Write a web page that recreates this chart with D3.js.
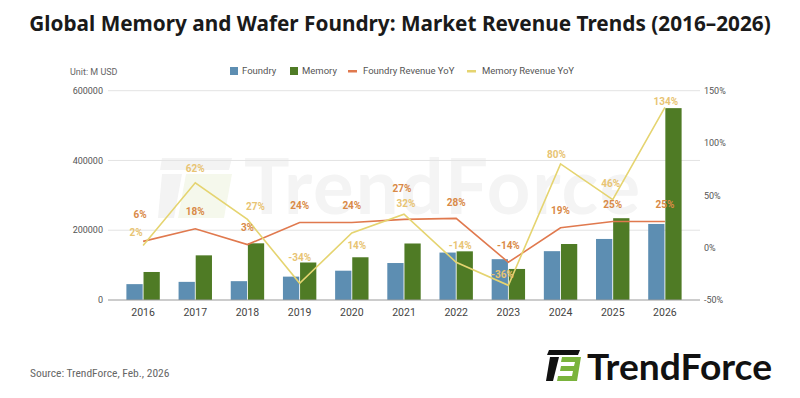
<!DOCTYPE html>
<html lang="en">
  <head>
    <meta charset="UTF-8" />
    <title>Global Memory and Wafer Foundry</title>
    <script src="https://d3js.org/d3.v7.min.js"></script>
    <style>
      body { margin: 0; background: #fff; }
      svg { display: block; }
    </style>
  </head>
  <body>
    <div id="chart"></div>
    <script>
      // Chart data
      const years = ["2016", "2017", "2018", "2019", "2020", "2021", "2022", "2023", "2024", "2025", "2026"];
      const foundryRev = [45500, 52000, 54000, 67000, 84000, 106000, 136000, 117000, 140000, 175000, 218000];
      const memoryRev = [80300, 128000, 162500, 107500, 122500, 162000, 139500, 89000, 160500, 234500, 550000];
      const foundryYoY = [6, 18, 3, 24, 24, 27, 28, -14, 19, 25, 25];
      const memoryYoY = [2, 62, 27, -34, 14, 32, -14, -36, 80, 46, 134];
      const leftTicks = [0, 200000, 400000, 600000];
      const rightTicks = [-50, 0, 50, 100, 150];

      // label nudges so data labels don't collide (px, relative to point)
      const foundryLabelDx = [-3, 0, 0, 0, 0, -2, 0, 0, 0, 0, 0];
      const foundryLabelDy = [-27, -17, -17, -17, -17, -31, -16, -17, -17, -17, -17];
      const memoryLabelDx = [-7, 0, 8, 0, 5, 2, 4, -6, -4, -2, 1];
      const memoryLabelDy = [-13, -14, -13, -26, 12, -11, -17, -11, -9, -16, -6];

      const width = 800;
      const height = 398;
      const colors = {
        foundry: "#5d8eb2",
        memory: "#4f7b25",
        foundryLine: "#e0794e",
        memoryLine: "#e5d470",
        foundryLabel: "#d98a47",
        memoryLabel: "#e8c473",
      };
      const font = "Roboto, 'Liberation Sans', sans-serif";

      const svg = d3
        .select("#chart")
        .append("svg")
        .attr("width", width)
        .attr("height", height);

      // plot area
      const gridLeft = 108;
      const gridRight = 700;
      const plotTop = 90.7;
      const plotBottom = 300;

      const x = d3.scaleBand().domain(years).range([117, 691]).paddingInner(0.36).paddingOuter(0.18);
      const xSub = d3.scaleBand().domain(["foundry", "memory"]).range([0, x.bandwidth()]).paddingInner(0.05);
      const yLeft = d3.scaleLinear().domain([0, 600000]).range([plotBottom, plotTop]);
      const yRight = d3.scaleLinear().domain([-50, 150]).range([plotBottom, plotTop]);
      const cx = (d) => x(d) + x.bandwidth() / 2;

      // Title, fitted to the width of the original
      const title = svg
        .append("text")
        .attr("x", width / 2)
        .attr("y", 31)
        .attr("text-anchor", "middle")
        .style("font-family", "'Noto Sans', 'Open Sans', sans-serif")
        .style("font-weight", 700)
        .style("font-size", "22px")
        .style("fill", "#1a1a1a")
        .text("Global Memory and Wafer Foundry: Market Revenue Trends (2016\u20132026)");
      const tw = title.node().getComputedTextLength();
      title.style("font-size", (22 * 742) / tw + "px");

      // Watermark
      const wm = svg.append("g");
      wm.append("path")
        .attr("d", "M162,158 L232,158 L229,170 L160,170 Z M162,174 L182,174 L174,218 L158,218 Z")
        .attr("fill", "#f3f3f3");
      wm.append("path")
        .attr("d", "M186,174 L232,174 L224,218 L178,218 Z")
        .attr("fill", "#f5f8ec");
      wm.append("text")
        .attr("x", 244)
        .attr("y", 214)
        .style("font-family", "Lato, 'Open Sans', sans-serif")
        .style("font-weight", 700)
        .style("font-size", "76px")
        .style("fill", "#f4f4f4")
        .attr("textLength", 396)
        .attr("lengthAdjust", "spacing")
        .text("TrendForce");

      // Gridlines
      svg
        .append("g")
        .selectAll("line")
        .data(leftTicks.filter((d) => d > 0))
        .join("line")
        .attr("x1", gridLeft)
        .attr("x2", gridRight)
        .attr("y1", (d) => yLeft(d))
        .attr("y2", (d) => yLeft(d))
        .attr("stroke", "#e3e3e3")
        .attr("stroke-width", 1);

      // Left axis labels
      svg
        .append("g")
        .selectAll("text")
        .data(leftTicks)
        .join("text")
        .attr("x", 103)
        .attr("y", (d) => yLeft(d))
        .attr("dy", "0.35em")
        .attr("text-anchor", "end")
        .style("font-family", font)
        .style("font-size", "9px")
        .style("fill", "#555")
        .text((d) => d);

      // Right axis labels
      svg
        .append("g")
        .selectAll("text")
        .data(rightTicks)
        .join("text")
        .attr("x", 704)
        .attr("y", (d) => yRight(d))
        .attr("dy", "0.35em")
        .style("font-family", font)
        .style("font-size", "9px")
        .style("fill", "#555")
        .text((d) => d + "%");

      // Unit label
      svg
        .append("text")
        .attr("x", 70)
        .attr("y", 75)
        .style("font-family", font)
        .style("font-size", "9px")
        .style("fill", "#666")
        .text("Unit: M USD");

      // Bars
      const groups = svg
        .append("g")
        .selectAll("g")
        .data(years)
        .join("g")
        .attr("transform", (d) => `translate(${x(d)},0)`);

      groups
        .append("rect")
        .attr("x", xSub("foundry"))
        .attr("width", xSub.bandwidth())
        .attr("y", (d, i) => yLeft(foundryRev[i]))
        .attr("height", (d, i) => plotBottom - yLeft(foundryRev[i]))
        .attr("fill", colors.foundry);

      groups
        .append("rect")
        .attr("x", xSub("memory"))
        .attr("width", xSub.bandwidth())
        .attr("y", (d, i) => yLeft(memoryRev[i]))
        .attr("height", (d, i) => plotBottom - yLeft(memoryRev[i]))
        .attr("fill", colors.memory);

      // Baseline
      svg
        .append("line")
        .attr("x1", gridLeft)
        .attr("x2", gridRight)
        .attr("y1", plotBottom)
        .attr("y2", plotBottom)
        .attr("stroke", "#9a9a9a")
        .attr("stroke-width", 1);

      // X labels
      svg
        .append("g")
        .selectAll("text")
        .data(years)
        .join("text")
        .attr("x", (d) => cx(d))
        .attr("y", 312)
        .attr("dy", "0.35em")
        .attr("text-anchor", "middle")
        .style("font-family", font)
        .style("font-size", "10.5px")
        .style("fill", "#444")
        .text((d) => d);

      // YoY lines
      const line = d3
        .line()
        .x((d) => cx(d[0]))
        .y((d) => yRight(d[1]));

      svg
        .append("path")
        .datum(years.map((y, i) => [y, foundryYoY[i]]))
        .attr("d", line)
        .attr("fill", "none")
        .attr("stroke", colors.foundryLine)
        .attr("stroke-width", 1.6);

      svg
        .append("path")
        .datum(years.map((y, i) => [y, memoryYoY[i]]))
        .attr("d", line)
        .attr("fill", "none")
        .attr("stroke", colors.memoryLine)
        .attr("stroke-width", 1.6);

      // Data labels
      function addLabels(values, dxs, dys, color) {
        svg
          .append("g")
          .selectAll("text")
          .data(years)
          .join("text")
          .attr("x", (d, i) => cx(d) + dxs[i])
          .attr("y", (d, i) => yRight(values[i]) + dys[i])
          .attr("dy", "0.35em")
          .attr("text-anchor", "middle")
          .style("font-family", font)
          .style("font-weight", 700)
          .style("font-size", "10px")
          .style("fill", color)
          .text((d, i) => values[i] + "%");
      }
      addLabels(foundryYoY, foundryLabelDx, foundryLabelDy, colors.foundryLabel);
      addLabels(memoryYoY, memoryLabelDx, memoryLabelDy, colors.memoryLabel);

      // Legend
      const legend = [
        { name: "Foundry", type: "box", color: colors.foundry, x: 230 },
        { name: "Memory", type: "box", color: colors.memory, x: 290 },
        { name: "Foundry Revenue YoY", type: "dash", color: colors.foundryLine, x: 348 },
        { name: "Memory Revenue YoY", type: "dash", color: colors.memoryLine, x: 467 },
      ];
      const lg = svg
        .append("g")
        .selectAll("g")
        .data(legend)
        .join("g")
        .attr("transform", (d) => `translate(${d.x},71)`);
      lg.filter((d) => d.type === "box")
        .append("rect")
        .attr("x", 0)
        .attr("y", -4)
        .attr("width", 8)
        .attr("height", 8)
        .attr("fill", (d) => d.color);
      lg.filter((d) => d.type === "dash")
        .append("rect")
        .attr("x", 0)
        .attr("y", -1)
        .attr("width", 9)
        .attr("height", 2.5)
        .attr("fill", (d) => d.color);
      lg.append("text")
        .attr("x", (d) => (d.type === "box" ? 12 : 15))
        .attr("dy", "0.35em")
        .style("font-family", font)
        .style("font-size", "9.5px")
        .style("fill", "#555")
        .text((d) => d.name);

      // Source
      svg
        .append("text")
        .attr("x", 30)
        .attr("y", 377)
        .style("font-family", "'Liberation Sans Narrow', 'Roboto Condensed', sans-serif")
        .style("font-size", "11.5px")
        .style("fill", "#666")
        .text("Source: TrendForce, Feb., 2026");

      // Logo
      const logo = svg.append("g");
      logo.append("path")
        .attr("d", "M549,350 L580,350 L578,355 L547,355 Z M550,357 L559,357 L553,381 L546,381 Z")
        .attr("fill", "#111");
      logo.append("path")
        .attr("d", "M562,357 L581,357 L577,381 L557,381 L558,376 L572,376 L573,371 L560,371 L561,366 L574,366 L575,362 L561,362 Z")
        .attr("fill", "#7ab33c");
      logo.append("text")
        .attr("x", 587)
        .attr("y", 380)
        .style("font-family", "Lato, 'Open Sans', sans-serif")
        .style("font-weight", 700)
        .style("font-size", "37px")
        .style("fill", "#111")
        .attr("textLength", 185)
        .attr("lengthAdjust", "spacingAndGlyphs")
        .text("TrendForce");
    </script>
  </body>
</html>
